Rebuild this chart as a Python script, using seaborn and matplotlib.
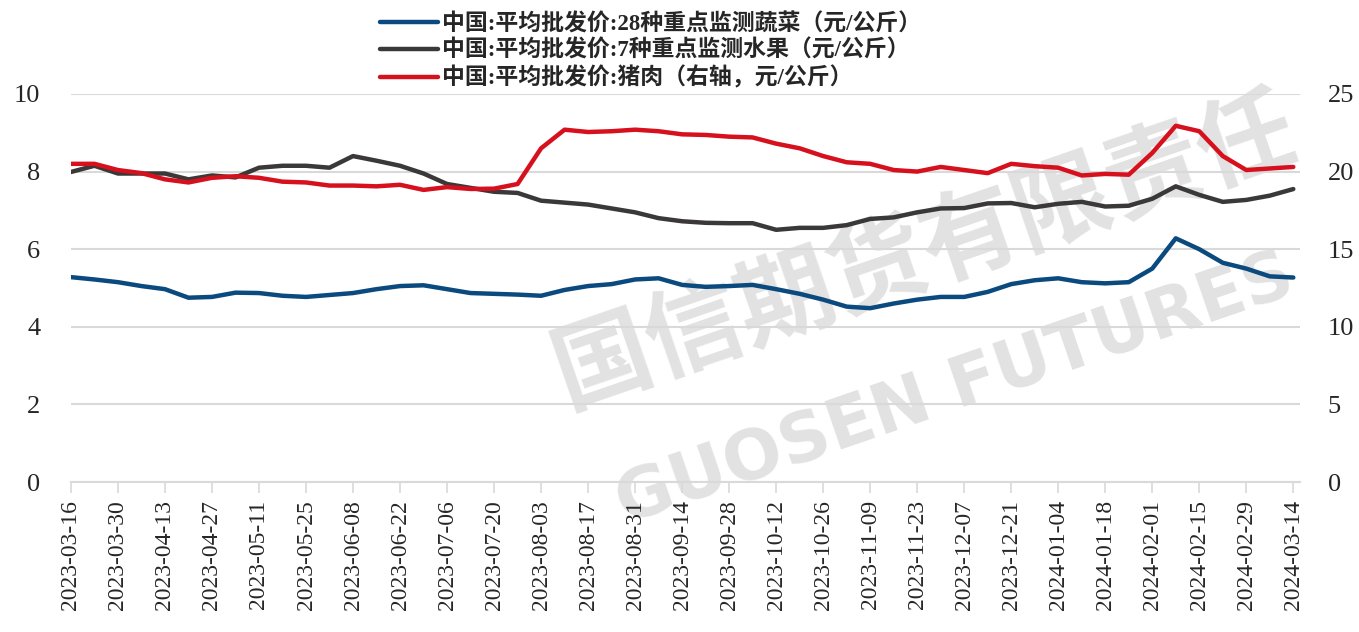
import matplotlib
matplotlib.use("Agg")
import matplotlib.pyplot as plt
import matplotlib.dates as mdates
import pandas as pd
import seaborn as sns

# ---------------------------------------------------------------------------
# Data (weekly readings, 2023-03-16 .. 2024-03-14)
# ---------------------------------------------------------------------------
dates = pd.date_range("2023-03-16", "2024-03-14", freq="7D")

veg = [5.28, 5.22, 5.15, 5.05, 4.97, 4.75, 4.77, 4.88, 4.87, 4.80,
       4.77, 4.82, 4.87, 4.97, 5.05, 5.07, 4.97, 4.87, 4.85, 4.83,
       4.80, 4.95, 5.05, 5.10, 5.22, 5.25, 5.08, 5.03, 5.05, 5.08,
       4.97, 4.85, 4.70, 4.52, 4.48, 4.60, 4.70, 4.77, 4.77, 4.90,
       5.10, 5.20, 5.25, 5.15, 5.12, 5.15, 5.50, 6.28, 6.00, 5.65,
       5.50, 5.30, 5.27]

fruit = [7.99, 8.15, 7.95, 7.95, 7.95, 7.80, 7.90, 7.85, 8.10, 8.15,
         8.15, 8.10, 8.40, 8.28, 8.15, 7.95, 7.68, 7.58, 7.48, 7.45,
         7.25, 7.20, 7.15, 7.05, 6.95, 6.80, 6.72, 6.68, 6.67, 6.67,
         6.50, 6.55, 6.55, 6.62, 6.78, 6.82, 6.95, 7.05, 7.06, 7.18,
         7.19, 7.08, 7.17, 7.22, 7.10, 7.12, 7.30, 7.62, 7.40, 7.22,
         7.27, 7.38, 7.55]

pork = [20.5, 20.5, 20.1, 19.9, 19.5, 19.3, 19.6, 19.7, 19.6, 19.35,
        19.3, 19.1, 19.1, 19.05, 19.15, 18.82, 19.0, 18.88, 18.9, 19.2,
        21.5, 22.7, 22.55, 22.6, 22.7, 22.6, 22.4, 22.36, 22.25, 22.2,
        21.8, 21.5, 21.0, 20.6, 20.5, 20.1, 20.0, 20.3, 20.1, 19.9,
        20.5, 20.35, 20.25, 19.75, 19.85, 19.8, 21.2, 22.95, 22.6, 21.0,
        20.1, 20.2, 20.3]

labels = ["中国:平均批发价:28种重点监测蔬菜（元/公斤）",
          "中国:平均批发价:7种重点监测水果（元/公斤）",
          "中国:平均批发价:猪肉（右轴，元/公斤）"]

BLUE = "#0b4a7e"
GREY = "#3b3838"
RED = "#d7101d"
GRID = "#d9d9d9"
WATERMARK = "#e2e2e2"
SERIF = ["Liberation Serif", "DejaVu Serif"]
CJK = ["Liberation Serif", "Noto Sans CJK SC"]

sns.set_theme(style="white")
plt.rcParams["font.family"] = SERIF

fig = plt.figure(figsize=(13.59, 6.32), dpi=100)
ax = fig.add_axes([0.0522, 0.2373, 0.9044, 0.614])
ax2 = ax.twinx()

# watermark, kept beneath grid, ticks and lines
ax.text(0.41, 0.40, "国信期货有限责任", transform=fig.transFigure, rotation=19,
        rotation_mode="anchor", ha="left", va="center", fontsize=70,
        fontweight="bold", color=WATERMARK, family=["Noto Sans CJK SC"],
        zorder=0.3, clip_on=False)
ax.text(0.455, 0.20, "GUOSEN FUTURES", transform=fig.transFigure, rotation=19,
        rotation_mode="anchor", ha="left", va="center", fontsize=50,
        fontweight="bold", color=WATERMARK, family=["DejaVu Sans"],
        zorder=0.3, clip_on=False)

sns.lineplot(x=dates, y=veg, ax=ax, color=BLUE, linewidth=3.2, label=labels[0], legend=False)
sns.lineplot(x=dates, y=fruit, ax=ax, color=GREY, linewidth=3.2, label=labels[1], legend=False)
sns.lineplot(x=dates, y=pork, ax=ax2, color=RED, linewidth=3.2, label=labels[2], legend=False)

ax.set_ylim(0, 10)
ax.set_yticks(range(0, 11, 2))
ax2.set_ylim(0, 25)
ax2.set_yticks(range(0, 26, 5))
ax.set_xlim(dates[0], pd.Timestamp("2024-03-16"))

ax.yaxis.grid(True, color=GRID, linewidth=1.5)
ax.set_axisbelow("line")

xticks = pd.date_range("2023-03-16", "2024-03-14", freq="14D")
ax.set_xticks(xticks)
ax.xaxis.set_major_formatter(mdates.DateFormatter("%Y-%m-%d"))
ax.tick_params(axis="x", which="major", length=8, width=1.2, color=GRID,
               direction="out", pad=5, labelsize=17, labelrotation=90, bottom=True)
ax.tick_params(axis="y", length=0, labelsize=19, pad=22)
ax2.tick_params(axis="y", length=0, labelsize=19, pad=20)

for a in (ax, ax2):
    for side in ("top", "left", "right", "bottom"):
        a.spines[side].set_visible(False)
    a.set_xlabel("")
    a.set_ylabel("")
ax.spines["bottom"].set_visible(True)
ax.spines["bottom"].set_color(GRID)
ax.spines["bottom"].set_linewidth(1.5)

h1, l1 = ax.get_legend_handles_labels()
h2, l2 = ax2.get_legend_handles_labels()
fig.legend(h1 + h2, l1 + l2, loc="upper center", bbox_to_anchor=(0.479, 1.012),
           ncol=1, frameon=False, handlelength=2.5, handletextpad=0.2,
           labelspacing=0.2, prop={"family": CJK, "size": 16.5, "weight": "bold"})

fig.savefig("out.png", dpi=100)
